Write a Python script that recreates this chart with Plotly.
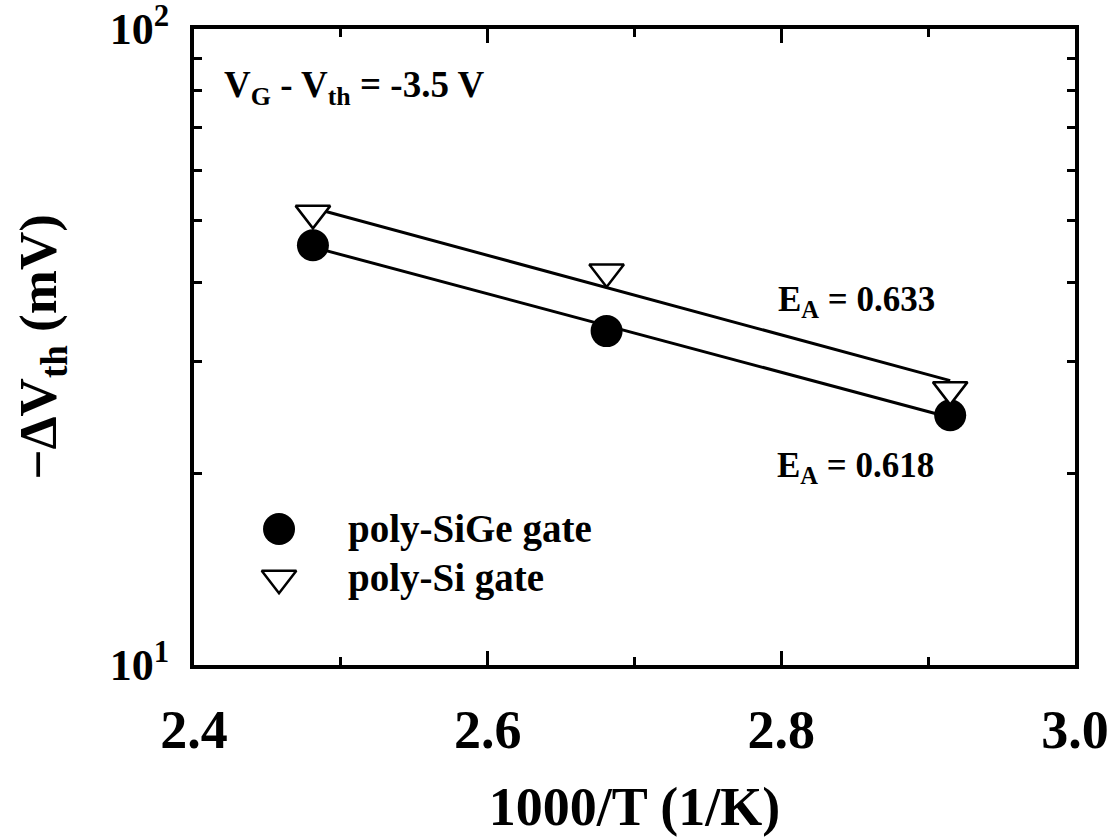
import plotly.graph_objects as go

# ---- data ----
inv_T = [2.481, 2.681, 2.915]          # 1000/T (1/K)
dvth_sige = [45.7, 33.5, 24.7]         # -dVth (mV), poly-SiGe gate
dvth_si = [51.3, 41.5, 27.1]           # -dVth (mV), poly-Si gate
fit_x = [2.481, 2.915]
fit_sige = [45.4, 24.5]                # Arrhenius fit, E_A = 0.618
fit_si = [52.3, 28.0]                  # Arrhenius fit, E_A = 0.633
x_ticks = [2.4, 2.6, 2.8, 3.0]
x_tick_text = ["2.4", "2.6", "2.8", "3.0"]
y_ticks = [10, 100]
y_tick_text = ["10<sup>1</sup>", "10<sup>2</sup>"]
y_minor = [20, 30, 40, 50, 60, 70, 80, 90]
legend_names = ["poly-SiGe gate", "poly-Si gate"]
legend_pos = [(0.0965, 0.2138), (0.0965, 0.1363)]

FONT = "Liberation Serif"

fig = go.Figure()

# fit lines
fig.add_trace(go.Scatter(x=fit_x, y=fit_sige, mode="lines",
                         line=dict(color="black", width=3), showlegend=False))
fig.add_trace(go.Scatter(x=fit_x, y=fit_si, mode="lines",
                         line=dict(color="black", width=3), showlegend=False))
# data points
circle = dict(symbol="circle", size=32, color="black", line=dict(width=0))
tri = dict(symbol="triangle-down", size=30, color="white",
           line=dict(color="black", width=2.5))
fig.add_trace(go.Scatter(x=inv_T, y=dvth_sige, mode="markers", marker=circle,
                         name=legend_names[0], showlegend=False))
fig.add_trace(go.Scatter(x=inv_T, y=dvth_si, mode="markers", marker=tri,
                         name=legend_names[1], showlegend=False))

# manual legend symbols on an overlay unit axis
fig.add_trace(go.Scatter(x=[legend_pos[0][0]], y=[legend_pos[0][1]], mode="markers",
                         marker=circle, xaxis="x2", yaxis="y2", showlegend=False,
                         hoverinfo="skip"))
fig.add_trace(go.Scatter(x=[legend_pos[1][0]], y=[legend_pos[1][1]], mode="markers",
                         marker=tri, xaxis="x2", yaxis="y2", showlegend=False,
                         hoverinfo="skip"))

axis_common = dict(showline=True, linecolor="black", linewidth=4, mirror="allticks",
                   ticks="inside", tickcolor="black", tickwidth=3,
                   showgrid=False, zeroline=False, ticklabeloverflow="allow",
                   automargin=False)

fig.update_layout(
    width=1117, height=838,
    margin=dict(l=194, r=42, t=29, b=173, pad=0),
    paper_bgcolor="white", plot_bgcolor="white",
    font=dict(family=FONT, color="black"),
    xaxis=dict(range=[2.4, 3.0], tickmode="array", tickvals=x_ticks,
               ticktext=x_tick_text, ticklen=14,
               tickfont=dict(family=FONT, size=54, color="black", weight="bold"),
               ticklabelstandoff=14,
               minor=dict(dtick=0.1, tick0=2.4, ticks="inside", ticklen=8,
                          tickwidth=3, tickcolor="black"),
               title=dict(text="1000/T (1/K)", standoff=29,
                          font=dict(family=FONT, size=54, color="black", weight="bold")),
               **axis_common),
    yaxis=dict(type="log", range=[1, 2], tickmode="array", tickvals=y_ticks,
               ticktext=y_tick_text, ticklen=14,
               tickfont=dict(family=FONT, size=44, color="black", weight="bold"),
               ticklabelstandoff=12,
               minor=dict(tickmode="array", tickvals=y_minor, ticks="inside",
                          ticklen=8, tickwidth=3, tickcolor="black"),
               title=dict(text="\u2212\u0394V<sub>th</sub> (mV)", standoff=37,
                          font=dict(family=FONT, size=53, color="black", weight="bold")),
               **axis_common),
    xaxis2=dict(overlaying="x", range=[0, 1], visible=False),
    yaxis2=dict(overlaying="y", range=[0, 1], visible=False),
)

ann_font = dict(family=FONT, size=37, color="black", weight="bold")
ea_font = dict(family=FONT, size=35, color="black", weight="bold")
leg_font = dict(family=FONT, size=39, color="black", weight="bold")
annotations = [
    dict(text="V<sub>G</sub> - V<sub>th</sub> = -3.5 V", x=0.032, y=0.908,
         xanchor="left", yanchor="middle", font=ann_font),
    dict(text="E<sub>A</sub> = 0.633", x=0.661, y=0.571,
         xanchor="left", yanchor="middle", font=ea_font),
    dict(text="E<sub>A</sub> = 0.618", x=0.660, y=0.311,
         xanchor="left", yanchor="middle", font=ea_font),
    dict(text=legend_names[0], x=0.173, y=0.2138, xanchor="left", yanchor="middle",
         font=leg_font),
    dict(text=legend_names[1], x=0.173, y=0.1363, xanchor="left", yanchor="middle",
         font=leg_font),
]
for a in annotations:
    fig.add_annotation(xref="paper", yref="paper", showarrow=False, **a)

fig.write_html("out.html")
